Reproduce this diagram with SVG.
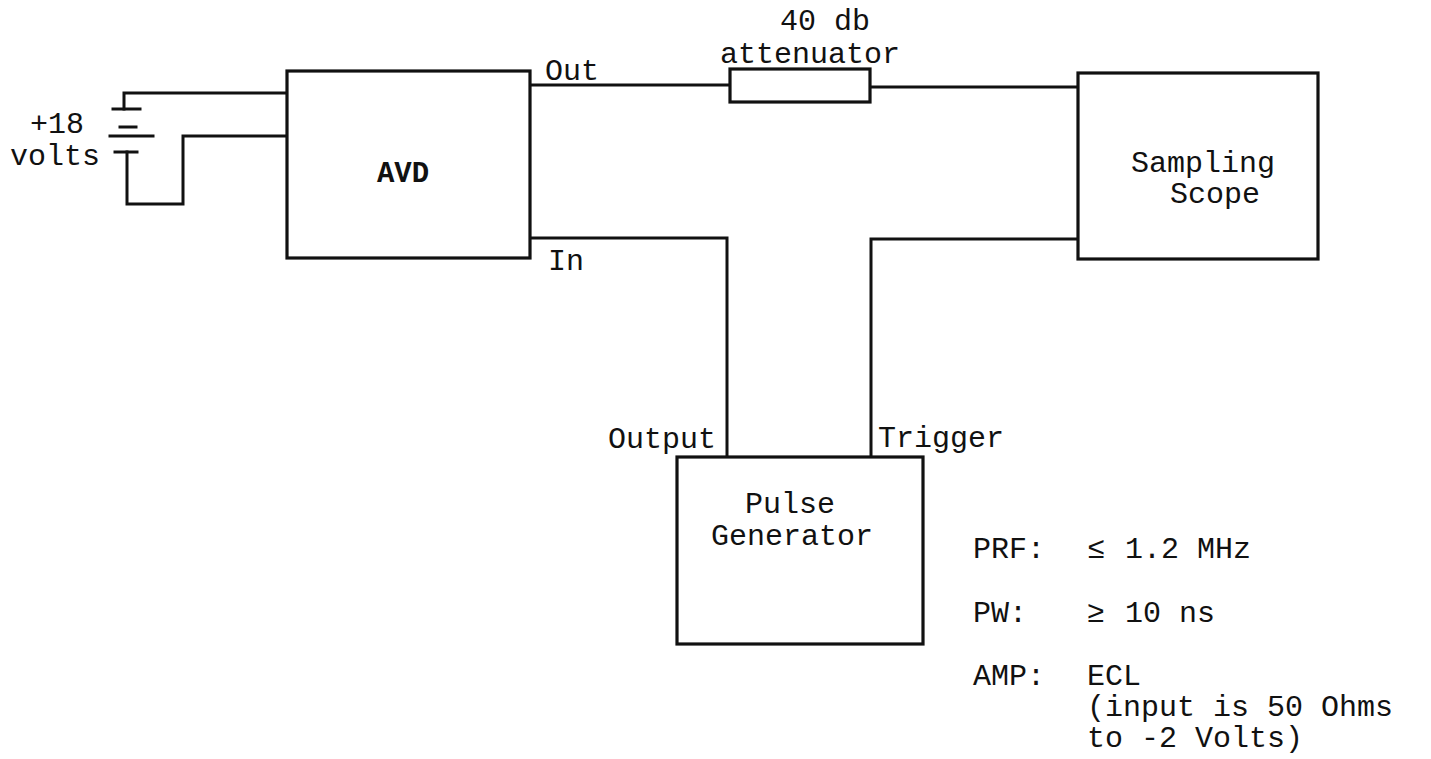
<svg xmlns="http://www.w3.org/2000/svg" width="1431" height="759" viewBox="0 0 1431 759">
<style>
.ln{fill:none;stroke:#111;stroke-width:3;stroke-linecap:square}
.bx{fill:#fff;stroke:#111;stroke-width:3.2}
text{font-family:"Liberation Mono","Courier New",monospace;font-size:30px;fill:#111}
.c{text-anchor:middle}
.b{font-weight:bold;font-size:29px}
</style>
<rect width="1431" height="759" fill="#fff"/>
<g id="connectors">
<path class="ln" d="M287,93 H124 V109"/>
<path class="ln" d="M113,109 H140"/>
<path class="ln" d="M120,127 H136"/>
<path class="ln" d="M110,136 H153"/>
<path class="ln" d="M115,152 H137"/>
<path class="ln" d="M127,152 V204 H183 V136 H287"/>
<path class="ln" d="M530,85 H730"/>
<path class="ln" d="M870,87 H1078"/>
<path class="ln" d="M530,238 H727 V457"/>
<path class="ln" d="M1078,239 H871 V457"/>
</g>
<g id="battery-label">
<text x="30" y="133">+18</text>
<text x="10" y="165">volts</text>
</g>
<g id="avd">
<rect class="bx" x="287" y="71" width="243" height="187"/>
<text class="c b" x="403" y="182">AVD</text>
<text x="545" y="80">Out</text>
<text x="548" y="270">In</text>
</g>
<g id="attenuator">
<rect class="bx" x="730" y="69" width="140" height="33"/>
<text class="c" x="825" y="30">40 db</text>
<text class="c" x="810" y="63">attenuator</text>
</g>
<g id="scope">
<rect class="bx" x="1078" y="73" width="240" height="186"/>
<text class="c" x="1203" y="172">Sampling</text>
<text class="c" x="1215" y="203">Scope</text>
</g>
<g id="pulse-generator">
<rect class="bx" x="677" y="457" width="246" height="187"/>
<text class="c" x="790" y="513">Pulse</text>
<text class="c" x="792" y="545">Generator</text>
<text x="608" y="448">Output</text>
<text x="878" y="447">Trigger</text>
</g>
<g id="specs">
<text x="973" y="558">PRF:</text>
<text x="1087" y="558">≤</text>
<text x="1125" y="558">1.2 MHz</text>
<text x="973" y="622">PW:</text>
<text x="1087" y="622">≥</text>
<text x="1125" y="622">10 ns</text>
<text x="973" y="685">AMP:</text>
<text x="1087" y="685">ECL</text>
<text x="1087" y="716">(input is 50 Ohms</text>
<text x="1087" y="747">to -2 Volts)</text>
</g>
</svg>
